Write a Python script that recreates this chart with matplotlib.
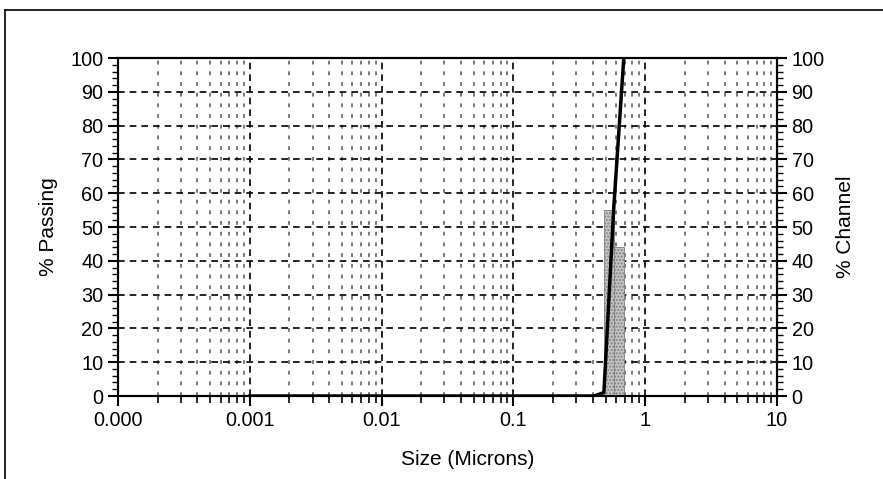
import matplotlib
matplotlib.use('Agg')
from matplotlib import pyplot as plt
from matplotlib.lines import Line2D
from matplotlib.ticker import LogLocator, MultipleLocator, NullFormatter

plt.rcParams['font.family'] = ['Liberation Sans', 'DejaVu Sans']

# channel edges (microns) and % in each channel
bar_left = [0.486, 0.578]
bar_right = [0.578, 0.688]
bar_pct = [55, 44]

# cumulative % passing curve
size_pts = [0.001, 0.01, 0.1, 0.409, 0.486, 0.578, 0.688]
passing = [0, 0, 0, 0, 1, 56, 100]

xticks = [0.0001, 0.001, 0.01, 0.1, 1, 10]
xlabels = ['0.000', '0.001', '0.01', '0.1', '1', '10']

W, H = 883, 479
fig = plt.figure(figsize=(W / 100, H / 100), dpi=100)
ax = fig.add_axes([118 / W, 1 - 396 / H, (777 - 118) / W, (396 - 58) / H])

# outer frame (top and left edges visible)
fig.add_artist(Line2D([5 / W, 5 / W], [0, 1 - 10 / H], color='black', lw=1.2))
fig.add_artist(Line2D([5 / W, 1], [1 - 10 / H, 1 - 10 / H], color='black', lw=1.2))

ax.set_xscale('log')
ax.set_xlim(0.0001, 10)
ax.set_ylim(0, 100)

for l, r, p in zip(bar_left, bar_right, bar_pct):
    ax.bar(l, p, width=r - l, align='edge', color='#c4c4c4', edgecolor='#808080',
           hatch='.....', lw=0.6, zorder=3)

ax.plot(size_pts, passing, color='black', lw=2.5, zorder=4)

ax.set_xticks(xticks)
ax.set_xticklabels(xlabels)
ax.xaxis.set_minor_locator(LogLocator(base=10, subs=range(2, 10)))
ax.xaxis.set_minor_formatter(NullFormatter())
ax.yaxis.set_major_locator(MultipleLocator(10))
ax.yaxis.set_minor_locator(MultipleLocator(2))

ax.grid(True, which='major', axis='y', color='black', ls=(0, (4, 3)), lw=1.2)
ax.grid(True, which='major', axis='x', color='black', ls=(0, (4, 3)), lw=1.2)
ax.grid(True, which='minor', axis='x', color='#555555', ls=(0, (2.5, 4.5)), lw=1.1)
ax.set_axisbelow(True)

ax.tick_params(which='major', direction='out', length=7, width=1.5, labelsize=14.3, colors='black')
ax.tick_params(which='minor', direction='out', length=5, width=1.2)
ax.tick_params(axis='y', which='minor', length=4, width=1.0)
for s in ax.spines.values():
    s.set_linewidth(1.5)

ax.set_xlabel('Size (Microns)', fontsize=15, labelpad=15)
ax.xaxis.label.set_x(0.53)
ax.set_ylabel('% Passing', fontsize=15, labelpad=9)

ax2 = ax.twinx()
ax2.set_ylim(0, 100)
ax2.yaxis.set_major_locator(MultipleLocator(10))
ax2.yaxis.set_minor_locator(MultipleLocator(2))
ax2.tick_params(which='major', direction='out', length=7, width=1.5, labelsize=14.3)
ax2.tick_params(which='minor', direction='out', length=4, width=1.0)
ax2.set_ylabel('% Channel', fontsize=15, labelpad=8)
for s in ax2.spines.values():
    s.set_linewidth(1.5)

fig.savefig('out.png', dpi=100)
